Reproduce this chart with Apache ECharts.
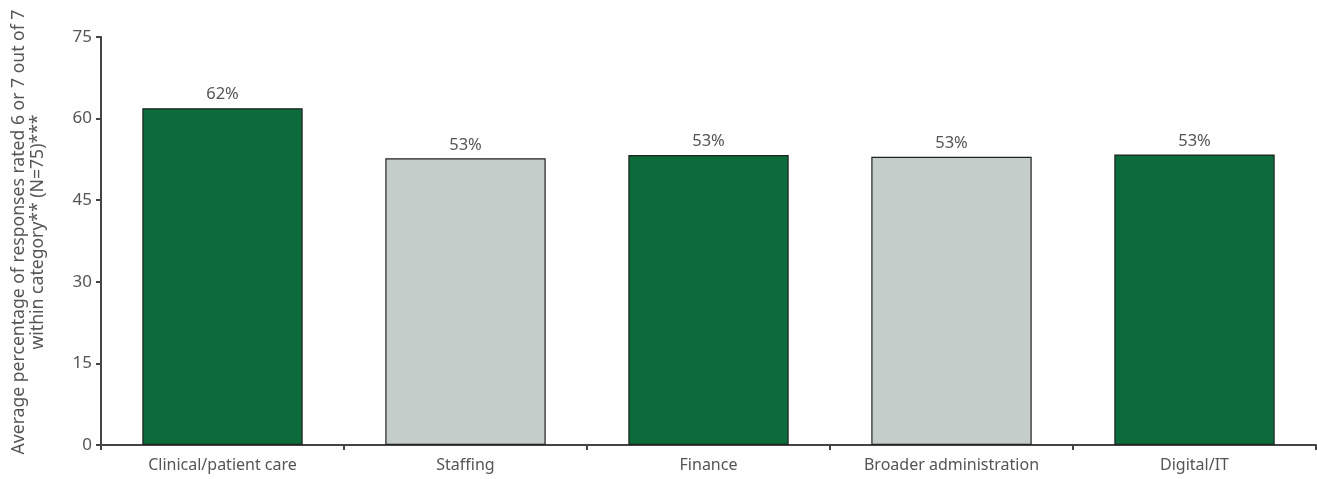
<!DOCTYPE html>
<html>
<head>
<meta charset="utf-8">
<script src="https://cdn.jsdelivr.net/npm/echarts@6/dist/echarts.min.js"></script>
<style>html,body{margin:0;padding:0;background:#fff}#c{width:1317px;height:479px}</style>
</head>
<body>
<div id="c"></div>
<script>
const categories = ['Clinical/patient care', 'Staffing', 'Finance', 'Broader administration', 'Digital/IT'];
const values = [61.9, 52.7, 53.3, 53.0, 53.4];
const barColors = ['#0B6B3B', '#C4CDC9', '#0B6B3B', '#C4CDC9', '#0B6B3B'];
const yTicks = [0, 15, 30, 45, 60, 75];
const yAxisTitle = 'Average percentage of responses rated 6 or 7 out of 7\nwithin category** (N=75)***';

const chart = echarts.init(document.getElementById('c'));
const font = '"Noto Sans", sans-serif';
chart.setOption({
  animation: false,
  grid: { left: 101, right: 1, top: 37, bottom: 34, containLabel: false },
  xAxis: {
    type: 'category',
    data: categories,
    axisLine: { lineStyle: { color: '#444', width: 2 } },
    axisTick: { show: true, length: 5, lineStyle: { color: '#444', width: 2 }, alignWithLabel: false },
    axisLabel: { color: '#555', fontSize: 16, fontFamily: font, margin: 12 }
  },
  yAxis: {
    type: 'value',
    min: yTicks[0], max: yTicks[yTicks.length - 1], interval: 15,
    name: yAxisTitle,
    nameLocation: 'middle',
    nameGap: 54,
    nameTextStyle: { color: '#555', fontSize: 17.6, fontFamily: font, lineHeight: 19, padding: [0, 0, 0, 18] },
    axisLine: { show: true, lineStyle: { color: '#444', width: 2 } },
    axisTick: { show: true, length: 5, lineStyle: { color: '#444', width: 2 } },
    axisLabel: { color: '#555', fontSize: 17, fontFamily: font, margin: 9 },
    splitLine: { show: false }
  },
  series: [{
    type: 'bar',
    barWidth: '66%',
    data: values.map((v, i) => ({ value: v, itemStyle: { color: barColors[i] } })),
    itemStyle: { borderColor: '#222', borderWidth: 1.2 },
    label: {
      show: true, position: 'top', distance: 5,
      color: '#555', fontSize: 16.5, fontFamily: font,
      formatter: p => Math.round(p.value) + '%'
    }
  }]
});
</script>
</body>
</html>
